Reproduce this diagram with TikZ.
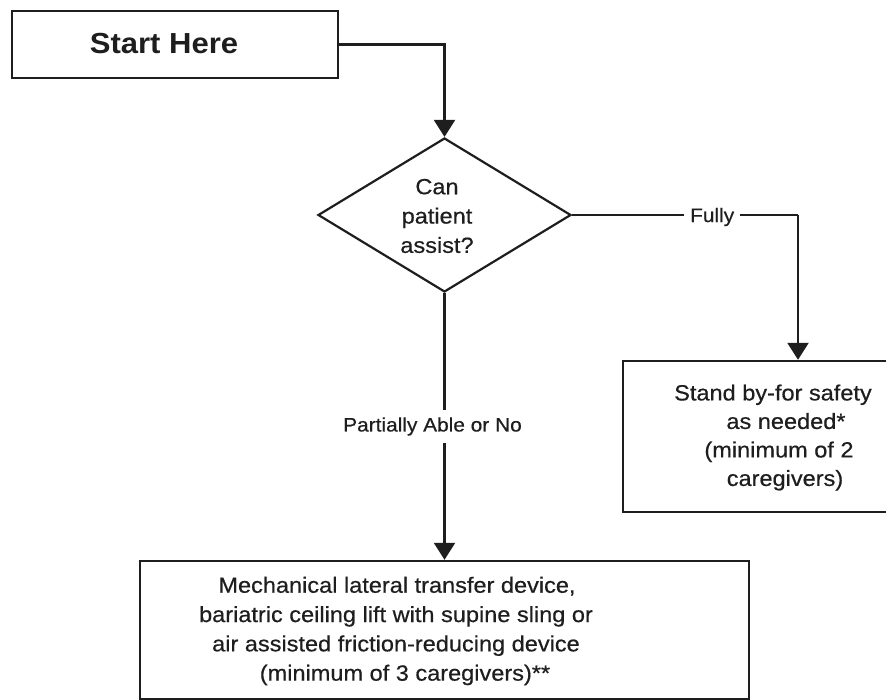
\documentclass[tikz,border=0pt]{standalone}
\usepackage{fontspec}
\setmainfont{Liberation Sans}[FakeStretch=1.07,FakeBold=0.5]
\newfontfamily\boldstart{Liberation Sans Bold}[FakeStretch=1.07]
\usetikzlibrary{shapes.geometric,arrows.meta}
\definecolor{ink}{RGB}{30,30,30}
\begin{document}
\begin{tikzpicture}[x=1pt,y=-1pt,
  box/.style={draw=ink,line width=2.4pt,rectangle,inner sep=0pt},
  txt/.style={text=ink,align=center,inner sep=0pt,font=\fontsize{22}{29.3}\selectfont},
  lbl/.style={fill=white,text=ink,font=\fontsize{19.5}{23}\selectfont,inner ysep=6pt,inner xsep=6pt},
  conn/.style={draw=ink,line width=2.2pt},
  arr/.style={conn,-{Triangle[width=21pt,length=17pt]}}]
\useasboundingbox (0,0) rectangle (886,700);
\fill[white] (0,0) rectangle (886,700);
\clip (0,0) rectangle (886,700);

% nodes
\node[box,minimum width=326pt,minimum height=67pt] (start) at (175,44.5) {};
\node[text=ink,inner sep=0pt,font=\fontsize{29}{35}\boldstart] (starttxt) at (164,44) {Start Here};

\node[draw=ink,line width=2.2pt,diamond,minimum width=253pt,minimum height=154pt,inner sep=0pt] (dia) at (444.5,215) {};
\node[txt] (diatxt) at (437,216) {Can\\patient\\assist?};

\node[box,minimum width=277pt,minimum height=151pt] (standby) at (761.5,436.5) {};
\node[txt,font=\fontsize{22}{28.5}\selectfont] (standbytxt) at (779,437.5) {Stand by-for safety\hspace*{12pt}\\\hspace*{14pt}as needed*\\(minimum of 2\\\hspace*{12pt}caregivers)};

\node[box,minimum width=609pt,minimum height=138pt] (bot) at (444.5,630) {};
\node[txt] (bottxt) at (396,631) {\hspace*{2pt}Mechanical lateral transfer device,\\bariatric ceiling lift with supine sling or\hspace*{6pt}\\air assisted friction-reducing device\\\hspace*{18pt}(minimum of 3 caregivers)**};

% connectors
\coordinate (turn) at (798,215);
\draw[arr] (start.east) -| (dia.north);
\draw[conn] (dia.east) -- node[lbl,pos=0.62,yshift=-2pt,inner ysep=4pt]{Fully} (turn);
\draw[arr] (turn) -- (turn |- standby.north);
\draw[arr] (dia.south) -- node[lbl,pos=0.5,xshift=-12pt,inner ysep=7pt]{Partially Able or No} (bot.north);
\end{tikzpicture}
\end{document}
